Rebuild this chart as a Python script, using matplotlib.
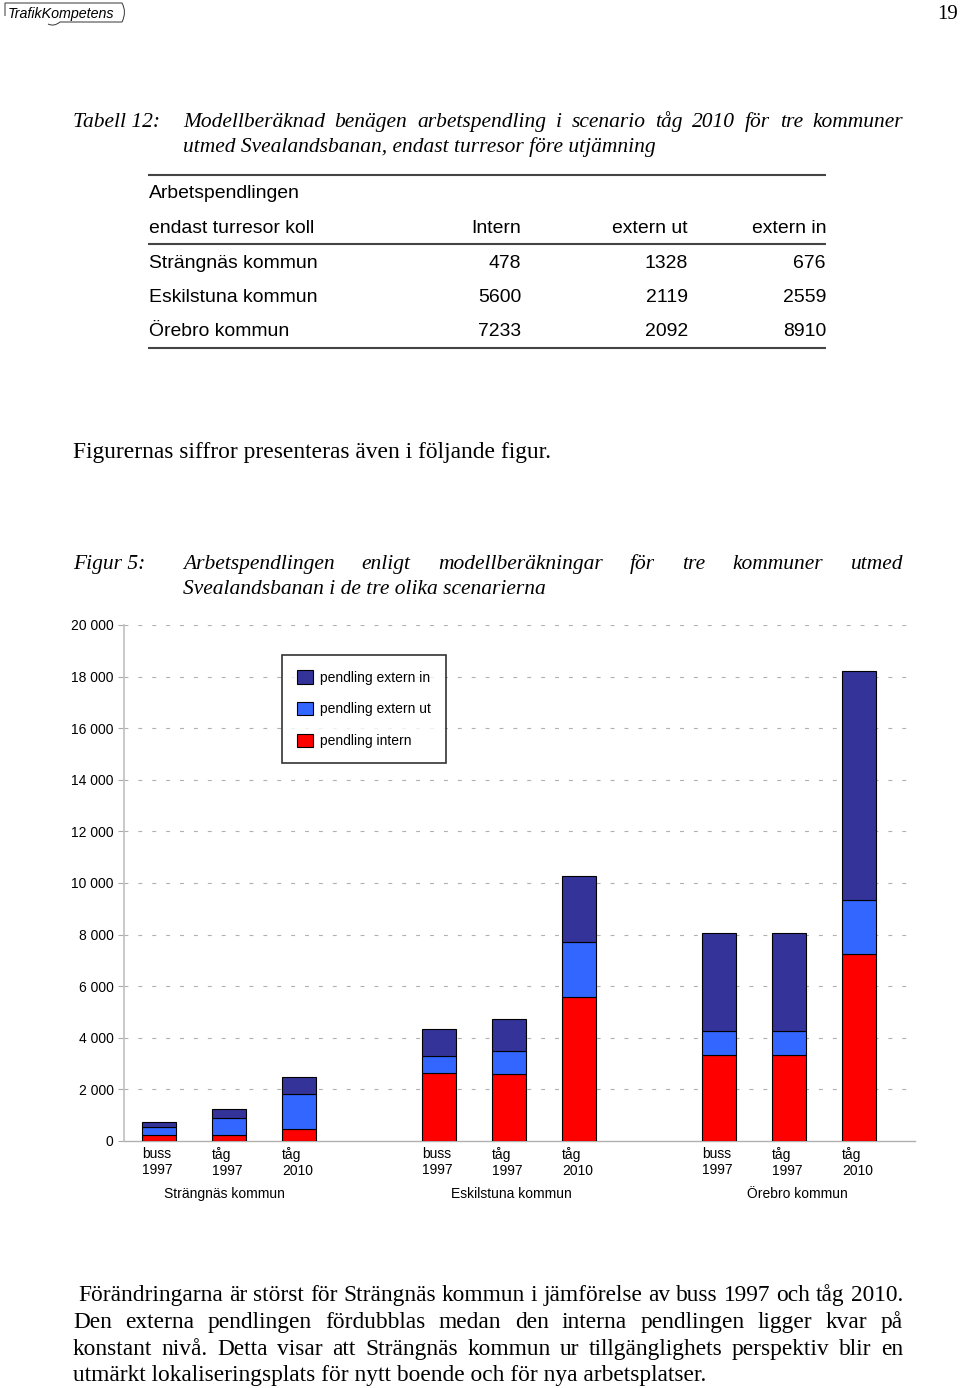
import matplotlib
matplotlib.use("Agg")
import matplotlib.pyplot as plt
from matplotlib.patches import Patch
from matplotlib.path import Path
from matplotlib.patches import PathPatch
from matplotlib.ticker import FuncFormatter

# ---------------- data ----------------
kommuner = ["Strängnäs kommun", "Eskilstuna kommun", "Örebro kommun"]
scenarier = ["buss\n1997", "tåg\n1997", "tåg\n2010"]
pendling_intern = [230, 230, 478, 2650, 2600, 5600, 3350, 3350, 7233]
pendling_extern_ut = [330, 675, 1328, 645, 880, 2119, 915, 915, 2092]
pendling_extern_in = [180, 320, 676, 1035, 1240, 2559, 3815, 3815, 8910]

tab_header = ["endast turresor koll", "Intern", "extern ut", "extern in"]
tab_kommun = ["Strängnäs kommun", "Eskilstuna kommun", "Örebro kommun"]
tab_intern = [478, 5600, 7233]
tab_ext_ut = [1328, 2119, 2092]
tab_ext_in = [676, 2559, 8910]

y_ticks = [0, 2000, 4000, 6000, 8000, 10000, 12000, 14000, 16000, 18000, 20000]

C_IN = "#333399"
C_UT = "#3366FF"
C_INT = "#FF0000"

W, H = 960, 1388
fig = plt.figure(figsize=(W / 100, H / 100), dpi=100)
fig.patch.set_facecolor("white")

# overlay axes in pixel coordinates
ov = fig.add_axes([0, 0, 1, 1], zorder=5)
ov.set_xlim(0, W)
ov.set_ylim(H, 0)
ov.axis("off")

renderer = fig.canvas.get_renderer()
SERIF = "Liberation Serif"
SANS = "Liberation Sans"


def width_of(s, size, **kw):
    t = ov.text(0, 0, s, fontsize=size, **kw)
    w = t.get_window_extent(renderer).width
    t.remove()
    return w


def fit_size(s, target, **kw):
    return 10 * target / width_of(s, 10, **kw)


def justify(s, x0, x1, y, size, **kw):
    words = s.split()
    objs = [ov.text(0, y, w, fontsize=size, va="baseline", ha="left", **kw) for w in words]
    ws = [o.get_window_extent(renderer).width for o in objs]
    gap = (x1 - x0 - sum(ws)) / (len(words) - 1)
    x = x0
    for o, w in zip(objs, ws):
        o.set_x(x)
        x += w + gap


# ---------------- header ----------------
logo_kw = dict(family=SANS, style="italic")
ov.text(8, 18, "TrafikKompetens", fontsize=fit_size("TrafikKompetens", 107, **logo_kw),
        va="baseline", ha="left", **logo_kw)
verts = [(5, 16), (5, 3), (122, 3), (127, 12), (122, 22), (60, 22), (54, 27), (48, 24)]
codes = [Path.MOVETO, Path.LINETO, Path.LINETO, Path.CURVE3, Path.CURVE3, Path.LINETO,
         Path.CURVE3, Path.CURVE3]
ov.add_patch(PathPatch(Path(verts, codes), fill=False, lw=0.7, edgecolor="#333333"))
ov.text(958, 19, "19", fontsize=15, family=SERIF, va="baseline", ha="right")

# ---------------- table caption ----------------
cap_kw = dict(family=SERIF, style="italic")
cap2 = "utmed Svealandsbanan, endast turresor före utjämning"
cap_size = fit_size(cap2, 473, **cap_kw)
ov.text(73, 127, "Tabell 12:", fontsize=cap_size, va="baseline", ha="left", **cap_kw)
justify("Modellberäknad benägen arbetspendling i scenario tåg 2010 för tre kommuner",
        183, 903, 127, cap_size, **cap_kw)
ov.text(183, 152, cap2, fontsize=cap_size, va="baseline", ha="left", **cap_kw)

# ---------------- table ----------------
tab_size = fit_size(tab_header[0], 166, family=SANS)
tk = dict(fontsize=tab_size, family=SANS, va="baseline")
col_x = [149, 521, 688, 826]
ov.text(149, 198, "Arbetspendlingen", ha="left", **tk)
ov.text(col_x[0], 233, tab_header[0], ha="left", **tk)
for j in range(1, 4):
    ov.text(col_x[j], 233, tab_header[j], ha="right", **tk)
for i, name in enumerate(tab_kommun):
    yb = 268 + i * 34
    ov.text(col_x[0], yb, name, ha="left", **tk)
    ov.text(col_x[1], yb, str(tab_intern[i]), ha="right", **tk)
    ov.text(col_x[2], yb, str(tab_ext_ut[i]), ha="right", **tk)
    ov.text(col_x[3], yb, str(tab_ext_in[i]), ha="right", **tk)
for yl in (175, 244, 348):
    ov.plot([148, 826], [yl, yl], color="#444444", lw=1.5, solid_capstyle="butt")

# ---------------- body text ----------------
body1 = "Figurernas siffror presenteras även i följande figur."
ov.text(73, 458, body1, fontsize=fit_size(body1, 477, family=SERIF), family=SERIF,
        va="baseline", ha="left")

fig_cap2 = "Svealandsbanan i de tre olika scenarierna"
fcap_size = fit_size(fig_cap2, 364, **cap_kw)
ov.text(73, 569, "Figur 5:", fontsize=fcap_size, va="baseline", ha="left", **cap_kw)
justify("Arbetspendlingen enligt modellberäkningar för tre kommuner utmed",
        183, 903, 569, fcap_size, **cap_kw)
ov.text(183, 594, fig_cap2, fontsize=fcap_size, va="baseline", ha="left", **cap_kw)

para_last = "utmärkt lokaliseringsplats för nytt boende och för nya arbetsplatser."
p_size = fit_size(para_last, 632, family=SERIF)
justify("Förändringarna är störst för Strängnäs kommun i jämförelse av buss 1997 och tåg 2010.",
        78, 903, 1301, p_size, family=SERIF)
justify("Den externa pendlingen fördubblas medan den interna pendlingen ligger kvar på",
        73, 903, 1328, p_size, family=SERIF)
justify("konstant nivå. Detta visar att Strängnäs kommun ur tillgänglighets perspektiv blir en",
        73, 903, 1355, p_size, family=SERIF)
ov.text(73, 1381, para_last, fontsize=p_size, family=SERIF, va="baseline", ha="left")

# ---------------- chart ----------------
L, R, B, T = 124, 915, 1141, 625
ax = fig.add_axes([L / W, 1 - B / H, (R - L) / W, (B - T) / H], zorder=1)
pos = [g * 4 + i for g in range(len(kommuner)) for i in range(len(scenarier))]
bw = 0.49
bot2 = [a + b for a, b in zip(pendling_intern, pendling_extern_ut)]
ax.bar(pos, pendling_intern, width=bw, color=C_INT, edgecolor="black", lw=0.8, zorder=3)
ax.bar(pos, pendling_extern_ut, bottom=pendling_intern, width=bw, color=C_UT,
       edgecolor="black", lw=0.8, zorder=3)
ax.bar(pos, pendling_extern_in, bottom=bot2, width=bw, color=C_IN,
       edgecolor="black", lw=0.8, zorder=3)

ax.set_xlim(-0.5, 10.8)
ax.set_ylim(0, 20000)
ax.set_yticks(y_ticks)
ax.yaxis.set_major_formatter(FuncFormatter(lambda v, p: f"{int(v):,}".replace(",", " ")))
ax.tick_params(axis="y", length=4, color="#aaaaaa", labelsize=10, pad=3.5)
for lab in ax.get_yticklabels():
    lab.set_family(SANS)
ax.set_xticks([])
for yv in y_ticks[1:]:
    ax.axhline(yv, color="#b0b0b0", lw=0.8, dashes=(3.5, 9), zorder=1)
for s in ("top", "right"):
    ax.spines[s].set_visible(False)
ax.spines["left"].set_color("#c0c0c0")
ax.spines["bottom"].set_color("#b0b0b0")
ax.spines["left"].set_linewidth(1.2)
ax.spines["bottom"].set_linewidth(1.0)

for k, p in enumerate(pos):
    ax.annotate(scenarier[k % 3], xy=(p - bw / 2, 0), xycoords=("data", "axes fraction"),
                xytext=(0, -4.5), textcoords="offset points", ha="left", va="top",
                fontsize=10, family=SANS, linespacing=1.2)
for g, name in enumerate(kommuner):
    ax.annotate(name, xy=(0.94 + 4.09 * g, 0), xycoords=("data", "axes fraction"),
                xytext=(0, -38.5), textcoords="offset points", ha="center", va="center",
                fontsize=10, family=SANS)

handles = [Patch(facecolor=C_IN, edgecolor="black", lw=0.8),
           Patch(facecolor=C_UT, edgecolor="black", lw=0.8),
           Patch(facecolor=C_INT, edgecolor="black", lw=0.8)]
leg = ax.legend(handles, ["pendling extern in", "pendling extern ut", "pendling intern"],
                loc="upper left", bbox_to_anchor=(282 / W, 1 - 655 / H),
                bbox_transform=fig.transFigure, borderaxespad=0, frameon=True,
                fancybox=False, prop={"family": SANS, "size": 10},
                handlelength=1.1, handleheight=1.1, handletextpad=0.55,
                labelspacing=1.25, borderpad=1.1)
leg.get_frame().set_edgecolor("black")
leg.get_frame().set_linewidth(1.2)
leg.set_zorder(10)

fig.savefig("out.png", dpi=100, facecolor="white")
